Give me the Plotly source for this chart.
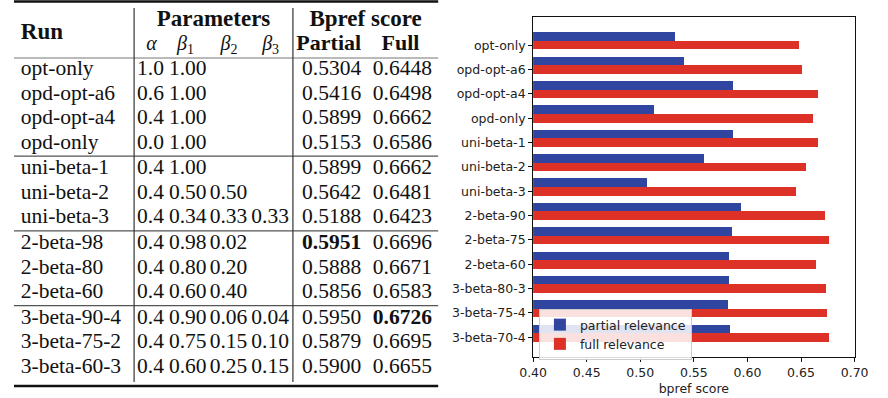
import plotly.graph_objects as go

# ---------------- table data ----------------
table_runs = ["opt-only", "opd-opt-a6", "opd-opt-a4", "opd-only",
              "uni-beta-1", "uni-beta-2", "uni-beta-3",
              "2-beta-98", "2-beta-80", "2-beta-60",
              "3-beta-90-4", "3-beta-75-2", "3-beta-60-3"]
table_block = [0, 0, 0, 0, 1, 1, 1, 2, 2, 2, 3, 3, 3]
alpha = ["1.0", "0.6", "0.4", "0.0", "0.4", "0.4", "0.4", "0.4", "0.4", "0.4", "0.4", "0.4", "0.4"]
beta1 = ["1.00", "1.00", "1.00", "1.00", "1.00", "0.50", "0.34", "0.98", "0.80", "0.60", "0.90", "0.75", "0.60"]
beta2 = ["", "", "", "", "", "0.50", "0.33", "0.02", "0.20", "0.40", "0.06", "0.15", "0.25"]
beta3 = ["", "", "", "", "", "", "0.33", "", "", "", "0.04", "0.10", "0.15"]
partial = [0.5304, 0.5416, 0.5899, 0.5153, 0.5899, 0.5642, 0.5188,
           0.5951, 0.5888, 0.5856, 0.5950, 0.5879, 0.5900]
full = [0.6448, 0.6498, 0.6662, 0.6586, 0.6662, 0.6481, 0.6423,
        0.6696, 0.6671, 0.6583, 0.6726, 0.6695, 0.6655]

# ---------------- chart data ----------------
chart_runs = ["opt-only", "opd-opt-a6", "opd-opt-a4", "opd-only",
              "uni-beta-1", "uni-beta-2", "uni-beta-3",
              "2-beta-90", "2-beta-75", "2-beta-60",
              "3-beta-80-3", "3-beta-75-4", "3-beta-70-4"]
chart_partial = [0.5325, 0.5407, 0.5867, 0.5127, 0.5867, 0.5597, 0.5063,
                 0.5940, 0.5859, 0.5831, 0.5831, 0.5822, 0.5841]
chart_full = [0.6485, 0.6512, 0.6663, 0.6617, 0.6663, 0.6545, 0.6455,
              0.6726, 0.6765, 0.6645, 0.6735, 0.6744, 0.6765]
x_ticks = [0.40, 0.45, 0.50, 0.55, 0.60, 0.65, 0.70]

BLUE = "#2f45a0"
RED = "#dd3026"
W, H = 888, 398

fig = go.Figure()

# ---------------- bar chart ----------------
fig.add_trace(go.Bar(y=chart_runs, x=chart_partial, orientation="h",
                     name="partial relevance", marker_color=BLUE,
                     marker_line_width=0, width=0.35, offset=-0.525,
                     xaxis="x", yaxis="y"))
fig.add_trace(go.Bar(y=chart_runs, x=chart_full, orientation="h",
                     name="full relevance", marker_color=RED,
                     marker_line_width=0, width=0.35, offset=-0.175,
                     xaxis="x", yaxis="y"))

# ---------------- table (text on a hidden pixel-scaled axis) ----------------
pitch = 24.4
row_y = []
for i, b in enumerate(table_block):
    row_y.append(70 + pitch * i + 1.5 * b)

SERIF = "Liberation Serif"
FS = 21.5
LOFF = -1  # compensate plotly's text offset for right-positioned text


def text_col(xs, ys, texts, pos, size=FS):
    fig.add_trace(go.Scatter(x=xs, y=ys, text=texts, mode="text",
                             textposition=pos, showlegend=False,
                             hoverinfo="skip",
                             textfont=dict(family=SERIF, size=size, color="#111"),
                             xaxis="x2", yaxis="y2"))


n = len(table_runs)
text_col([8 + LOFF] * n, row_y, table_runs, "middle right")
text_col([128 + LOFF] * n, row_y, alpha, "middle right")
text_col([161 + LOFF] * n, row_y, beta1, "middle right")
text_col([203 + LOFF] * n, row_y, beta2, "middle right")
text_col([246 + LOFF] * n, row_y, beta3, "middle right")
pmax, fmax = max(partial), max(full)
text_col([328] * n, row_y,
         [f"<b>{v:.4f}</b>" if v == pmax else f"{v:.4f}" for v in partial],
         "middle center")
text_col([401] * n, row_y,
         [f"<b>{v:.4f}</b>" if v == fmax else f"{v:.4f}" for v in full],
         "middle center")

# header
text_col([8 + LOFF], [33], ["<b>Run</b>"], "middle right", size=23)
text_col([206, 363], [20, 20], ["<b>Parameters</b>", "<b>Bpref score</b>"], "middle center", size=23)
text_col([142, 177, 222, 265], [45, 45, 45, 45],
         ["<i>α</i>", "<i>β</i><sub>1</sub>", "<i>β</i><sub>2</sub>", "<i>β</i><sub>3</sub>"],
         "middle center", size=20)
text_col([325, 399], [44, 44], ["<b>Partial</b>", "<b>Full</b>"], "middle center", size=22)

# rules
shapes = []
def hline(y, w, color):
    shapes.append(dict(type="line", xref="x2", yref="y2", x0=0, x1=438, y0=y, y1=y,
                       line=dict(color=color, width=w)))

hline(1.5, 2.5, "#111")
hline(58, 1.2, "#777")
for b in range(1, 4):
    first = table_block.index(b)
    hline((row_y[first - 1] + row_y[first]) / 2, 1.2, "#555")
hline(386, 2.5, "#111")
for xv in (124, 288):
    shapes.append(dict(type="line", xref="x2", yref="y2", x0=xv, x1=xv, y0=8, y1=382,
                       line=dict(color="#333", width=1.2)))

SANS = "DejaVu Sans"
FSS = 12.5
fig.update_layout(
    width=W, height=H,
    margin=dict(l=0, r=0, t=0, b=0),
    paper_bgcolor="white", plot_bgcolor="white",
    showlegend=True,
    shapes=shapes,
    font=dict(family=SANS, size=FSS, color="#222"),
    xaxis=dict(domain=[536 / W, 868 / W], range=[0.4, 0.7], tickvals=x_ticks,
               tickformat=".2f", ticks="outside", ticklen=4, tickcolor="#111",
               showline=True, mirror=True, linecolor="#111", linewidth=1,
               showgrid=False, zeroline=False,
               tickfont=dict(family=SANS, size=FSS, color="#222"),
               title=dict(text="bpref score", standoff=5,
                          font=dict(family=SANS, size=FSS, color="#222"))),
    yaxis=dict(domain=[1 - 357 / H, 1 - 17 / H], type="category",
               range=[12.81, -1.16], autorange=False,
               ticks="outside", ticklen=4, tickcolor="#111",
               showline=True, mirror=True, linecolor="#111", linewidth=1,
               showgrid=False, zeroline=False,
               tickfont=dict(family=SANS, size=FSS, color="#222")),
    xaxis2=dict(domain=[0, 440 / W], range=[0, 440], visible=False, fixedrange=True),
    yaxis2=dict(domain=[0, 1], range=[H, 0], visible=False, fixedrange=True, anchor="x2"),
    legend=dict(x=542 / W, y=1 - 309 / H, xanchor="left", yanchor="top",
                bgcolor="rgba(255,255,255,0.85)", bordercolor="#cccccc", borderwidth=1,
                font=dict(family=SANS, size=FSS, color="#222"),
                tracegroupgap=0, itemsizing="constant"),
    bargap=0,
)

fig.write_html("out.html")
